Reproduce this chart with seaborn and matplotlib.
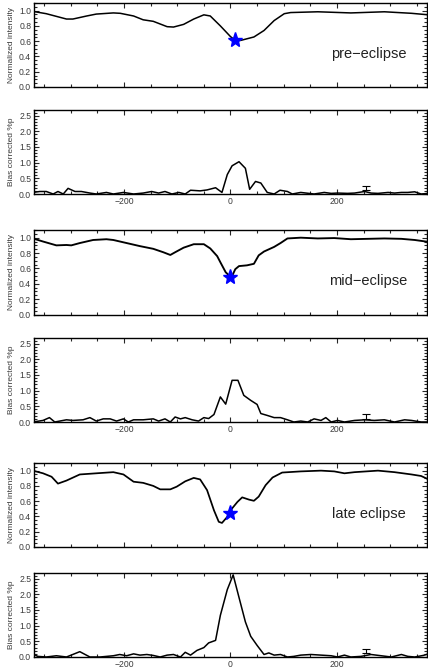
import numpy as np
import pandas as pd
import matplotlib
matplotlib.use("Agg")
import matplotlib.pyplot as plt
from matplotlib.ticker import MultipleLocator
import seaborn as sns

# ---------------- data ----------------
# pre-eclipse
pre_int_x = [-371, -346, -308, -296, -270, -252, -220, -207, -182, -164,
             -145, -119, -107, -88, -69, -50, -38, -19, 0, 9,
             19, 44, 63, 82, 101, 113, 164, 226, 289, 340, 372]
pre_int_y = [0.99, 0.96, 0.89, 0.89, 0.93, 0.955, 0.97, 0.965, 0.93, 0.88,
             0.86, 0.79, 0.785, 0.82, 0.89, 0.945, 0.93, 0.80, 0.66, 0.61,
             0.61, 0.655, 0.74, 0.87, 0.96, 0.975, 0.985, 0.97, 0.985, 0.965, 0.945]
pre_bias_x = [-371, -358, -346, -333, -324, -314, -305, -292, -280, -264,
              -252, -233, -220, -201, -182, -164, -148, -135, -123, -110,
              -97, -85, -75, -57, -44, -28, -16, -6, 3, 16,
              28, 36, 47, 57, 69, 82, 93, 107, 116, 132,
              157, 176, 189, 201, 220, 233, 252, 264, 277, 296,
              308, 321, 333, 346, 358, 372]
pre_bias_y = [0.05, 0.08, 0.08, 0.0, 0.08, 0.0, 0.18, 0.08, 0.08, 0.03,
              0.0, 0.05, 0.0, 0.05, 0.0, 0.03, 0.08, 0.03, 0.08, 0.0,
              0.05, 0.0, 0.12, 0.10, 0.13, 0.20, 0.05, 0.62, 0.90, 1.03,
              0.82, 0.15, 0.40, 0.35, 0.05, 0.0, 0.12, 0.08, 0.0, 0.05,
              0.0, 0.05, 0.02, 0.03, 0.02, 0.03, 0.08, 0.03, 0.02, 0.05,
              0.03, 0.05, 0.05, 0.07, 0.0, 0.02]
pre_star = (8, 0.62)
pre_err = (255, 0.19, 0.07)

# mid-eclipse
mid_int_x = [-371, -352, -327, -308, -299, -283, -258, -233, -220, -195,
             -170, -145, -126, -113, -104, -88, -69, -50, -38, -25,
             -19, -9, -3, 3, 9, 16, 31, 44, 53, 63,
             82, 94, 107, 132, 164, 195, 226, 258, 289, 321,
             346, 372]
mid_int_y = [0.99, 0.95, 0.90, 0.905, 0.90, 0.93, 0.97, 0.98, 0.97, 0.93,
             0.89, 0.855, 0.81, 0.775, 0.81, 0.87, 0.915, 0.915, 0.86, 0.76,
             0.68, 0.55, 0.51, 0.50, 0.59, 0.63, 0.64, 0.66, 0.77, 0.82,
             0.88, 0.93, 0.99, 1.0, 0.99, 0.995, 0.98, 0.985, 0.99, 0.985,
             0.97, 0.945]
mid_bias_x = [-371, -352, -340, -330, -308, -296, -277, -264, -252, -239,
              -226, -214, -201, -192, -182, -164, -145, -135, -123, -113,
              -104, -94, -85, -72, -60, -50, -41, -31, -19, -9,
              3, 14, 25, 38, 50, 57, 69, 82, 94, 107,
              119, 132, 145, 157, 170, 179, 189, 201, 214, 233,
              252, 270, 289, 308, 327, 340, 358, 372]
mid_bias_y = [0.0, 0.05, 0.14, 0.0, 0.07, 0.05, 0.07, 0.14, 0.03, 0.10,
              0.10, 0.03, 0.10, 0.0, 0.07, 0.07, 0.10, 0.03, 0.10, 0.0,
              0.16, 0.10, 0.14, 0.07, 0.03, 0.14, 0.11, 0.24, 0.80, 0.57,
              1.33, 1.33, 0.85, 0.69, 0.56, 0.27, 0.21, 0.14, 0.14, 0.07,
              0.0, 0.03, 0.0, 0.10, 0.05, 0.14, 0.0, 0.05, 0.0, 0.05,
              0.07, 0.05, 0.07, 0.0, 0.07, 0.05, 0.0, 0.0]
mid_star = (0, 0.49)
mid_err = (255, 0.16, 0.08)

# late eclipse
late_int_x = [-371, -352, -336, -324, -308, -283, -252, -220, -201, -182,
              -164, -145, -132, -113, -101, -85, -69, -57, -44, -31,
              -22, -16, -6, 3, 13, 22, 35, 44, 53, 66,
              79, 97, 132, 170, 195, 214, 233, 277, 308, 340,
              358, 372]
late_int_y = [1.0, 0.965, 0.92, 0.83, 0.87, 0.95, 0.965, 0.98, 0.95, 0.855,
              0.84, 0.80, 0.755, 0.755, 0.79, 0.86, 0.905, 0.885, 0.745, 0.48,
              0.33, 0.315, 0.395, 0.505, 0.59, 0.65, 0.62, 0.605, 0.66, 0.81,
              0.91, 0.975, 0.99, 1.0, 0.99, 0.965, 0.98, 1.0, 0.98, 0.95,
              0.93, 0.885]
late_bias_x = [-371, -362, -346, -327, -308, -283, -264, -245, -220, -208,
               -195, -182, -170, -157, -145, -132, -119, -107, -94, -85,
               -75, -63, -50, -41, -28, -19, -6, 5, 16, 28,
               38, 50, 63, 72, 82, 94, 107, 119, 132, 151,
               170, 189, 201, 214, 226, 245, 264, 283, 302, 321,
               333, 346, 362, 372]
late_bias_y = [0.10, 0.02, 0.0, 0.04, 0.0, 0.17, 0.0, 0.0, 0.04, 0.08,
               0.04, 0.10, 0.06, 0.08, 0.05, 0.0, 0.06, 0.08, 0.0, 0.15,
               0.06, 0.21, 0.30, 0.45, 0.53, 1.33, 2.15, 2.62, 1.90, 1.12,
               0.66, 0.37, 0.08, 0.13, 0.06, 0.08, 0.0, 0.02, 0.06, 0.08,
               0.06, 0.04, 0.0, 0.06, 0.0, 0.02, 0.08, 0.04, 0.0, 0.08,
               0.02, 0.0, 0.05, 0.10]
late_star = (0, 0.44)
late_err = (255, 0.20, 0.06)

labels = ["pre\u2212eclipse", "mid\u2212eclipse", "late eclipse"]

# ---------------- style ----------------
sns.set_style("ticks")
plt.rcParams["font.family"] = ["Liberation Sans", "DejaVu Sans"]
plt.rcParams["axes.linewidth"] = 1.0

W, H = 428, 670
fig = plt.figure(figsize=(W / 100, H / 100), dpi=100)

left_px, right_px = 34, 427.5
panel_px = [(3, 87), (110, 194), (230, 314.5), (338, 422), (463, 547), (573, 657)]


def make_axes(top, bottom):
    return fig.add_axes([left_px / W, 1 - bottom / H,
                         (right_px - left_px) / W, (bottom - top) / H])


def style_axes(ax, ymajor, yminor, show_xlabels):
    ax.set_xlim(-369, 370)
    ax.xaxis.set_major_locator(MultipleLocator(200))
    ax.xaxis.set_minor_locator(MultipleLocator(50))
    ax.yaxis.set_major_locator(MultipleLocator(ymajor))
    ax.yaxis.set_minor_locator(MultipleLocator(yminor))
    ax.tick_params(which="both", direction="in", top=True, right=True,
                   labelsize=6.2, labelcolor="#3a3a3a", width=0.8, pad=2)
    ax.tick_params(which="major", length=3.5)
    ax.tick_params(which="minor", length=2.5)
    if not show_xlabels:
        ax.tick_params(axis="x", labelbottom=False)
    for s in ax.spines.values():
        s.set_color("black")
    ax.set_xlabel("")


sets = [
    (pre_int_x, pre_int_y, pre_bias_x, pre_bias_y, pre_star, pre_err, 1.1),
    (mid_int_x, mid_int_y, mid_bias_x, mid_bias_y, mid_star, mid_err, 1.35),
    (late_int_x, late_int_y, late_bias_x, late_bias_y, late_star, late_err, 1.25),
]

for i, (ix, iy, bx, by, star, err, lw) in enumerate(sets):
    # intensity panel
    ax = make_axes(*panel_px[2 * i])
    df = pd.DataFrame({"v": ix, "I": iy})
    sns.lineplot(data=df, x="v", y="I", ax=ax, color="black", lw=lw,
                 sort=False, estimator=None)
    ax.plot([star[0]], [star[1]], marker="*", ms=11, color="#0000ff",
            mec="#0000ff", ls="none", zorder=5)
    ax.set_ylim(0, 1.1)
    style_axes(ax, 0.2, 0.05, False)
    ax.set_ylabel("Normalized intensity", fontsize=6, color="#3a3a3a", labelpad=3)
    ax.text(259, 0.43, labels[i], fontsize=10.5, color="#222222",
            ha="center", va="center")

    # polarization panel
    ax2 = make_axes(*panel_px[2 * i + 1])
    dfb = pd.DataFrame({"v": bx, "p": by})
    sns.lineplot(data=dfb, x="v", y="p", ax=ax2, color="black", lw=1.1,
                 sort=False, estimator=None)
    ax2.errorbar([err[0]], [err[1]], yerr=[err[2]], color="black", lw=0.8,
                 capsize=3, capthick=0.8)
    ax2.set_ylim(0, 2.68)
    style_axes(ax2, 0.5, 0.1, True)
    ax2.set_ylabel("Bias corrected %p", fontsize=6, color="#3a3a3a", labelpad=3)

fig.savefig("out.png", dpi=100)
